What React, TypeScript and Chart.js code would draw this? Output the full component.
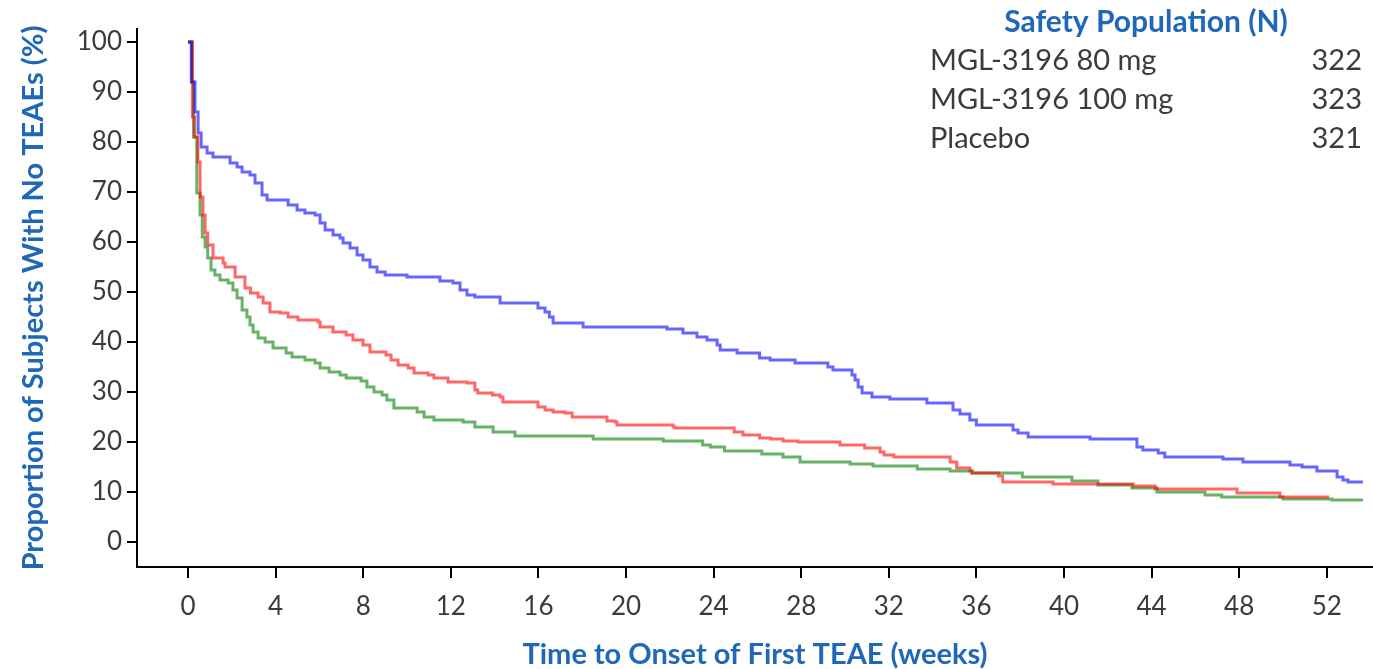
import React, { useEffect, useRef } from "react";
import { Chart, registerables } from "chart.js";

Chart.register(...registerables);

// [week, proportion %] step points (Kaplan-Meier style)
const mgl80Steps: [number, number][] = [
  [0, 100], [0.15, 92], [0.32, 86], [0.46, 81.8], [0.6, 79], [0.87, 77.8], [1.14, 77], [1.92, 75.8],
  [2.24, 75], [2.47, 74], [2.83, 73.4], [3.06, 71.8], [3.38, 69.4], [3.61, 68.4], [4.57, 67.4], [4.98, 66.4],
  [5.34, 65.8], [5.8, 65.4], [6.03, 63.8], [6.26, 62.4], [6.62, 61.4], [6.94, 60.8], [7.08, 59.8], [7.4, 58.8],
  [7.72, 57.4], [7.99, 56.4], [8.31, 55], [8.63, 54], [9.0, 53.4], [10.0, 53], [11.5, 52.2], [12.1, 51.8],
  [12.42, 50.4], [12.74, 49.4], [13.1, 49], [14.25, 47.8], [15.98, 46.8], [16.3, 46], [16.5, 45], [16.67, 43.8],
  [18.04, 43], [21.87, 42.6], [22.6, 41.8], [23.24, 41], [23.7, 40.4], [24.16, 39.4], [24.3, 38.4], [25.07, 37.8],
  [26.1, 36.8], [26.58, 36.4], [27.72, 35.8], [29.22, 35], [29.45, 34.4], [30.32, 33.4], [30.46, 32.4], [30.6, 31],
  [30.78, 29.8], [31.23, 29], [32.05, 28.6], [33.74, 27.8], [34.93, 26.4], [35.25, 25.6], [35.7, 24.4], [36.0, 23.4],
  [37.67, 22.4], [37.9, 21.8], [38.36, 21], [41.19, 20.6], [43.33, 19], [43.6, 18.4], [44.3, 17.8], [44.6, 17],
  [47.26, 16.6], [48.17, 16], [50.32, 15.4], [50.87, 15], [51.55, 14.2], [52.47, 13], [52.74, 12.4], [52.97, 12],
  [53.65, 12],
];

const mgl100Steps: [number, number][] = [
  [0, 100], [0.2, 85], [0.3, 81], [0.45, 76], [0.55, 69], [0.68, 65.4], [0.78, 61.8], [0.9, 59.4],
  [1.14, 56.8], [1.6, 55.8], [1.69, 55], [2.15, 53], [2.6, 50.8], [2.85, 49.8], [3.2, 49], [3.43, 47.8],
  [3.74, 46], [4.2, 45.8], [4.57, 45], [5.02, 44.4], [5.94, 44], [6.03, 43], [6.62, 42], [7.22, 41.4],
  [7.53, 40.4], [7.99, 39.4], [8.31, 38], [9.04, 37.4], [9.27, 36.4], [9.59, 35.4], [10.05, 34.8], [10.32, 33.8],
  [10.96, 33.4], [11.23, 32.8], [11.87, 32], [12.74, 31.8], [13.1, 30.4], [13.23, 29.8], [13.9, 29.4], [14.25, 29],
  [14.38, 28], [15.98, 27], [16.3, 26.4], [16.67, 26], [17.2, 25.8], [17.54, 25], [19.13, 24.2], [19.5, 24],
  [19.59, 23.4], [22.15, 23], [22.24, 22.8], [24.94, 22], [25.34, 21.4], [26.1, 20.8], [26.6, 20.6], [27.17, 20.2],
  [27.85, 20], [29.77, 19.4], [30.9, 18.8], [31.6, 18], [31.78, 17.4], [32.23, 17], [34.8, 16], [35.1, 14.8],
  [35.7, 14.2], [35.8, 13.8], [37.0, 13.2], [37.2, 12], [39.5, 11.6], [43.16, 11.2], [44.16, 10.6], [47.9, 9.8],
  [49.86, 9], [52.1, 9],
];

const placeboSteps: [number, number][] = [
  [0, 100], [0.18, 92], [0.25, 81], [0.4, 69.8], [0.55, 65.4], [0.65, 61], [0.78, 59], [0.9, 56.8],
  [1.05, 54.4], [1.23, 53.4], [1.46, 52.4], [1.83, 51.8], [2.05, 50.4], [2.24, 48.8], [2.47, 46.4], [2.69, 45],
  [2.83, 43.4], [2.97, 42], [3.2, 40.8], [3.52, 40], [3.88, 38.8], [4.48, 37.8], [4.75, 37], [5.34, 36.4],
  [5.8, 35.8], [6.03, 34.8], [6.44, 34], [6.94, 33.4], [7.22, 32.8], [7.9, 32.2], [8.17, 31], [8.49, 30],
  [8.86, 29.4], [9.08, 28.4], [9.4, 26.8], [10.46, 26], [10.78, 25], [11.23, 24.4], [12.56, 24], [13.1, 23],
  [13.93, 22], [14.93, 21.2], [18.5, 20.6], [21.7, 20.2], [23.5, 19.4], [23.85, 19], [24.5, 18.2], [26.2, 17.6],
  [27.17, 17], [27.95, 16], [30.23, 15.6], [31.28, 15.2], [33.3, 14.6], [34.8, 14.2], [35.8, 13.8], [38.1, 13],
  [40.36, 12.2], [41.55, 11.4], [43.1, 10.8], [44.25, 10], [46.44, 9.4], [47.2, 9], [50.0, 8.6], [52.24, 8.4],
  [53.65, 8.4],
];

const xTickValues = [0, 4, 8, 12, 16, 20, 24, 28, 32, 36, 40, 44, 48, 52];
const yTickValues = [0, 10, 20, 30, 40, 50, 60, 70, 80, 90, 100];

const legendTitle = "Safety Population (N)";
const legendNames = ["MGL-3196 80 mg", "MGL-3196 100 mg", "Placebo"];
const legendCounts = ["322", "323", "321"];

const FONT = 'Lato, "Open Sans", sans-serif';
const BLUE_TEXT = "#1f68b8";
const DARK_TEXT = "#3f3a36";

const legendPlugin = {
  id: "popLegend",
  afterDraw(chart: any) {
    const ctx = chart.ctx;
    ctx.save();
    ctx.textBaseline = "middle";
    ctx.fillStyle = BLUE_TEXT;
    ctx.font = `bold 30px ${FONT}`;
    ctx.textAlign = "center";
    ctx.fillText(legendTitle, 1146, 22);
    ctx.font = `29px ${FONT}`;
    ctx.fillStyle = DARK_TEXT;
    legendNames.forEach((name, i) => {
      const y = 61 + i * 39;
      ctx.textAlign = "left";
      ctx.fillText(name, 930, y);
      ctx.textAlign = "right";
      ctx.fillText(legendCounts[i], 1362, y);
    });
    ctx.restore();
  },
};

const toPoints = (steps: [number, number][]) => steps.map(([x, y]) => ({ x, y }));

export default function App() {
  const canvasRef = useRef<HTMLCanvasElement | null>(null);

  useEffect(() => {
    document.body.style.margin = "0";
    const canvas = canvasRef.current;
    if (!canvas) return;
    const common = { pointRadius: 0, borderWidth: 3, stepped: true as const, fill: false };
    const chart = new Chart(canvas, {
      type: "line",
      data: {
        datasets: [
          { ...common, label: "MGL-3196 80 mg", data: toPoints(mgl80Steps), borderColor: "rgba(0,0,255,0.6)" },
          { ...common, label: "MGL-3196 100 mg", data: toPoints(mgl100Steps), borderColor: "rgba(255,0,0,0.6)" },
          { ...common, label: "Placebo", data: toPoints(placeboSteps), borderColor: "rgba(0,128,0,0.6)" },
        ],
      },
      options: {
        responsive: false,
        animation: false,
        layout: { padding: { top: 29, right: 0, left: 0, bottom: 0 } },
        plugins: { legend: { display: false }, tooltip: { enabled: false } },
        scales: {
          x: {
            type: "linear",
            min: -2.33,
            max: 54.11,
            afterBuildTicks: (s: any) => {
              s.ticks = xTickValues.map((v) => ({ value: v }));
            },
            afterFit: (s: any) => {
              s.height = 102;
            },
            grid: { drawOnChartArea: false, drawTicks: true, tickLength: 11, color: "#000", lineWidth: 2 },
            border: { display: true, color: "#000", width: 2 },
            ticks: { color: DARK_TEXT, font: { family: FONT, size: 26 }, padding: 13, maxRotation: 0 },
            title: {
              display: true,
              text: "Time to Onset of First TEAE (weeks)",
              color: BLUE_TEXT,
              font: { family: FONT, size: 29, weight: "bold" },
              padding: { top: 0, bottom: -3 },
            },
          },
          y: {
            type: "linear",
            min: -5,
            max: 102.6,
            afterBuildTicks: (s: any) => {
              s.ticks = yTickValues.map((v) => ({ value: v }));
            },
            afterFit: (s: any) => {
              s.width = 137;
            },
            grid: { drawOnChartArea: false, drawTicks: true, tickLength: 10, color: "#000", lineWidth: 2 },
            border: { display: true, color: "#000", width: 2 },
            ticks: { color: DARK_TEXT, font: { family: FONT, size: 26 }, padding: 5 },
            title: {
              display: true,
              text: "Proportion of Subjects With No TEAEs (%)",
              color: BLUE_TEXT,
              font: { family: FONT, size: 29, weight: "bold" },
              padding: { top: 16, bottom: 0 },
            },
          },
        },
      },
      plugins: [legendPlugin],
    });
    return () => chart.destroy();
  }, []);

  return <canvas ref={canvasRef} width={1373} height={669} style={{ display: "block" }} />;
}
